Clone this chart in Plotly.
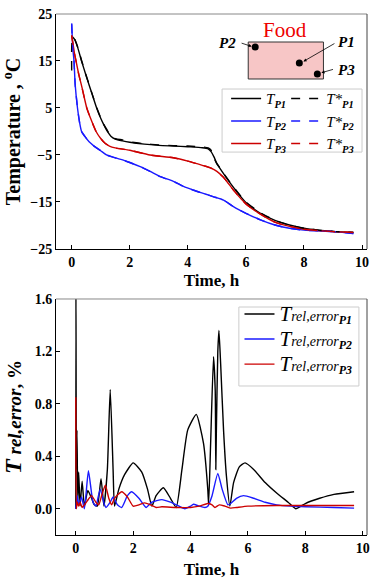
import plotly.graph_objects as go

# ---------------- data: temperatures (top panel) ----------------
t_p1 = [0.0, 0.1, 0.2, 0.34, 0.5, 0.6, 0.7, 0.86, 1.0, 1.1, 1.23, 1.35, 1.5, 1.75, 2.0, 2.5, 3.0, 3.5, 4.0, 4.5,
        4.7, 4.8, 4.9, 5.0, 5.1, 5.3, 5.5, 5.75, 6.0, 6.5, 7.0, 7.5, 8.0, 8.5, 9.0, 9.7]
T_p1 = [20.3, 19.6, 18.0, 15.0, 11.8, 9.9, 8.0, 5.0, 2.8, 1.5, 0.0, -1.0, -1.6, -2.0, -2.3, -2.7, -2.95, -3.1, -3.25, -3.45,
        -3.7, -4.3, -5.4, -6.8, -7.8, -9.6, -11.3, -13.3, -15.1, -17.4, -18.9, -19.9, -20.6, -21.0, -21.25, -21.5]
ts_p1 = [0.0, 0.03, 0.1, 0.2, 0.34, 0.5, 0.6, 0.7, 0.86, 1.0, 1.1, 1.23, 1.3, 1.35, 1.5, 1.75, 2.0, 2.5, 3.0, 3.5, 4.0,
         4.5, 4.7, 4.8, 4.85, 4.9, 5.0, 5.1, 5.3, 5.5, 5.75, 6.0, 6.5, 7.0, 7.5, 8.0, 8.5, 9.0, 9.7]
Ts_p1 = [13.0, 20.0, 19.7, 18.1, 15.1, 11.9, 10.0, 8.1, 5.1, 2.9, 1.6, 0.2, -0.6, -0.8, -1.5, -1.8, -2.2, -2.6, -2.85, -3.0, -3.1,
         -3.3, -3.5, -4.0, -4.8, -5.6, -6.9, -7.7, -9.5, -11.2, -13.2, -15.0, -17.3, -18.9, -19.9, -20.6, -21.0, -21.25, -21.5]

t_p2 = [0.0, 0.02, 0.05, 0.08, 0.12, 0.2, 0.27, 0.34, 0.46, 0.6, 0.75, 1.0, 1.2, 1.5, 1.78, 2.0, 2.36, 2.7, 3.05, 3.5,
        3.85, 4.2, 4.6, 4.89, 5.23, 5.57, 6.0, 6.5, 7.0, 7.5, 8.0, 9.0, 9.7]
T_p2 = [23.0, 20.0, 17.0, 15.0, 10.0, 5.0, 2.0, 0.0, -1.1, -2.2, -3.0, -4.1, -5.0, -5.6, -6.1, -6.6, -7.5, -8.5, -9.6, -10.6,
        -11.7, -12.5, -13.3, -13.9, -14.6, -16.0, -17.4, -18.8, -19.9, -20.6, -21.0, -21.3, -21.7]
Ts_p2 = [22.8, 19.8, 16.9, 14.9, 10.0, 5.1, 2.0, 0.0, -1.1, -2.2, -3.0, -4.1, -5.0, -5.6, -6.1, -6.6, -7.5, -8.5, -9.6, -10.6,
         -11.7, -12.5, -13.3, -13.9, -14.6, -16.0, -17.4, -18.8, -19.9, -20.6, -21.0, -21.3, -21.7]

t_p3 = [0.0, 0.05, 0.1, 0.15, 0.25, 0.35, 0.52, 0.65, 0.84, 1.0, 1.15, 1.3, 1.5, 2.0, 2.7, 3.5, 4.0, 4.5, 4.8, 5.0,
        5.2, 5.35, 5.6, 6.0, 6.5, 7.0, 7.5, 8.0, 8.5, 9.0, 9.7]
T_p3 = [20.5, 18.5, 16.5, 15.0, 12.0, 9.5, 5.0, 2.8, 0.0, -1.5, -2.5, -3.1, -3.5, -4.0, -5.0, -5.6, -6.3, -7.2, -7.8, -8.5,
        -9.6, -10.7, -12.7, -15.4, -17.6, -19.3, -20.2, -20.8, -21.1, -21.3, -21.5]
Ts_p3 = [20.3, 18.4, 16.5, 15.0, 12.0, 9.5, 5.0, 2.8, 0.0, -1.5, -2.5, -3.1, -3.5, -4.0, -5.0, -5.6, -6.3, -7.2, -7.8, -8.5,
         -9.6, -10.7, -12.7, -15.4, -17.6, -19.3, -20.2, -20.8, -21.1, -21.3, -21.5]

# ---------------- data: relative error (bottom panel) ----------------
te_p1 = [0.0, 0.005, 0.02, 0.04, 0.07, 0.1, 0.15, 0.22, 0.3, 0.42, 0.55, 0.65, 0.75, 0.88, 0.98, 1.1, 1.2, 1.3, 1.35,
         1.5, 1.7, 2.0, 2.3, 2.5, 2.65, 2.8, 3.05, 3.3, 3.5, 3.7, 3.9, 4.2, 4.45, 4.6, 4.63, 4.7, 4.8, 4.86, 4.88,
         4.9, 4.95, 4.99, 5.05, 5.15, 5.25, 5.37, 5.5, 5.7, 5.9, 6.2, 6.6, 7.0, 7.4, 7.67, 8.0, 8.5, 9.0, 9.7]
E_p1 = [0.0, 1.7, 0.3, 0.6, 0.05, 0.28, 0.02, 0.21, 0.02, 0.14, 0.08, 0.03, 0.02, 0.23, 0.02, 0.3, 0.91, 0.3, 0.02,
        0.15, 0.26, 0.35, 0.28, 0.15, 0.02, 0.1, 0.16, 0.08, 0.01, 0.3, 0.6, 0.72, 0.5, 0.15, 0.03, 0.5, 1.16, 0.9, 0.3,
        0.6, 1.2, 1.36, 1.1, 0.6, 0.25, 0.02, 0.2, 0.32, 0.35, 0.3, 0.2, 0.12, 0.05, 0.0, 0.04, 0.08, 0.11, 0.13]

te_p2 = [0.0, 0.05, 0.1, 0.2, 0.3, 0.44, 0.6, 0.7, 0.85, 1.0, 1.05, 1.2, 1.3, 1.45, 1.6, 1.8, 1.95, 2.2, 2.45, 2.65,
         3.0, 3.3, 3.6, 3.8, 4.0, 4.1, 4.3, 4.5, 4.6, 4.75, 4.95, 5.1, 5.3, 5.4, 5.6, 5.85, 6.2, 6.6, 7.0, 7.5, 8.0,
         9.0, 9.7]
E_p2 = [0.0, 0.1, 0.03, 0.09, 0.0, 0.29, 0.05, 0.02, 0.15, 0.03, 0.01, 0.05, 0.09, 0.03, 0.01, 0.1, 0.13, 0.08, 0.01, 0.05,
        0.07, 0.05, 0.02, 0.0, 0.02, 0.035, 0.02, 0.01, 0.02, 0.1, 0.27, 0.15, 0.03, 0.04, 0.08, 0.1, 0.08, 0.05, 0.03,
        0.02, 0.015, 0.01, 0.005]

te_p3 = [0.0, 0.02, 0.05, 0.1, 0.15, 0.22, 0.3, 0.4, 0.55, 0.7, 0.8, 0.9, 1.03, 1.15, 1.25, 1.35, 1.6, 1.8, 2.0, 2.2,
         2.4, 2.6, 2.8, 3.0, 3.5, 4.0, 4.3, 4.6, 4.75, 4.85, 5.0, 5.2, 5.4, 5.6, 6.0, 7.0, 8.0, 9.7]
E_p3 = [0.85, 0.0, 0.05, 0.02, 0.05, 0.01, 0.03, 0.06, 0.1, 0.05, 0.03, 0.1, 0.18, 0.08, 0.03, 0.08, 0.13, 0.09, 0.02, 0.03,
        0.045, 0.03, 0.01, 0.015, 0.01, 0.01, 0.02, 0.04, 0.03, 0.01, 0.03, 0.02, 0.005, 0.01, 0.02, 0.025, 0.025, 0.025]

# inset (food sketch) probe positions, in top-panel data units
probe_names = ["P1", "P2", "P3"]
probe_x = [7.84, 6.32, 8.46]
probe_y = [14.57, 17.98, 12.23]

temp_ticks = [25, 15, 5, -5, -15, -25]
err_ticks = [0.0, 0.4, 0.8, 1.2, 1.6]
time_ticks = [0, 2, 4, 6, 8, 10]

BLACK, BLUE, RED = "#000000", "#1a1aff", "#cc0000"
SERIF = "Liberation Serif"

fig = go.Figure()
lw = 1.4
sm = 0.6

def T(sub):
    return f"<i>T</i><sub><b><i>{sub}</i></b></sub>"

def Ts(sub):
    return f"<i>T*</i><sub><b><i>{sub}</i></b></sub>"

for x, y, c, name in [(t_p1, T_p1, BLACK, "P1"), (t_p2, T_p2, BLUE, "P2"), (t_p3, T_p3, RED, "P3")]:
    fig.add_trace(go.Scatter(x=x, y=y, mode="lines", line=dict(color=c, width=lw, shape="spline", smoothing=sm),
                             name=T(name), legend="legend", xaxis="x", yaxis="y"))
for x, y, c, name in [(ts_p1, Ts_p1, BLACK, "P1"), (t_p2, Ts_p2, BLUE, "P2"), (t_p3, Ts_p3, RED, "P3")]:
    fig.add_trace(go.Scatter(x=x, y=y, mode="lines", line=dict(color=c, width=lw, dash="dash", shape="spline", smoothing=sm),
                             name=Ts(name), legend="legend2", xaxis="x", yaxis="y"))

fig.add_trace(go.Scatter(x=probe_x, y=probe_y, mode="markers", marker=dict(color="black", size=7),
                         showlegend=False, hoverinfo="skip", xaxis="x", yaxis="y"))

def E(sub):
    return (f"<i><span style='font-size:21px'>T</span></i><i><span style='font-size:14px'>rel,error</span></i>"
            f"<sub><b><i>{sub}</i></b></sub>")

for x, y, c, name in [(te_p1, E_p1, BLACK, "P1"), (te_p2, E_p2, BLUE, "P2"), (te_p3, E_p3, RED, "P3")]:
    fig.add_trace(go.Scatter(x=x, y=y, mode="lines", line=dict(color=c, width=lw, shape="spline", smoothing=0.5),
                             name=E(name), legend="legend3", xaxis="x2", yaxis="y2", cliponaxis=True))

tickfont = dict(family=SERIF, size=14, color="black", weight="bold")
axcommon = dict(showgrid=False, zeroline=False, showline=True, linecolor="black", linewidth=1,
                ticks="inside", ticklen=4, tickcolor="black", tickfont=tickfont, automargin=False,
                ticklabeloverflow="allow")

fig.update_layout(
    width=383, height=586,
    margin=dict(l=56, r=16, t=14, b=51),
    paper_bgcolor="white", plot_bgcolor="white",
    font=dict(family=SERIF, color="black"),
    xaxis=dict(domain=[0, 1], range=[-0.54, 10.17], tickvals=time_ticks, anchor="y",
               title=dict(text="<b>Time, h</b>", font=dict(size=17, family=SERIF), standoff=5), **axcommon),
    yaxis=dict(domain=[0.549, 1], range=[-25, 25], tickvals=temp_ticks, anchor="x",
               title=dict(text="<b>Temperature , <sup>o</sup>C</b>", font=dict(size=20, family=SERIF), standoff=12),
               **axcommon),
    xaxis2=dict(domain=[0, 1], range=[-0.69, 10.15], tickvals=time_ticks, anchor="y2",
                title=dict(text="<b>Time, h</b>", font=dict(size=17, family=SERIF), standoff=8), **axcommon),
    yaxis2=dict(domain=[0, 0.453], range=[-0.2, 1.6], tickvals=err_ticks, tickformat=".1f", anchor="x2",
                title=dict(text="<b><i><span style='font-size:24px'>T</span> rel,error</i>, %</b>",
                           font=dict(size=19, family=SERIF), standoff=10),
                **axcommon),
    legend=dict(x=0.547, y=0.869, xanchor="left", yanchor="top", bgcolor="rgba(0,0,0,0)",
                font=dict(family=SERIF, size=15), itemwidth=30, tracegroupgap=0),
    legend2=dict(x=0.74, y=0.869, xanchor="left", yanchor="top", bgcolor="rgba(0,0,0,0)",
                 font=dict(family=SERIF, size=15), itemwidth=30, tracegroupgap=0),
    legend3=dict(x=0.59, y=0.458, xanchor="left", yanchor="top", bgcolor="rgba(0,0,0,0)",
                 borderwidth=0, font=dict(family=SERIF, size=17), itemwidth=30),
    showlegend=True,
)

shapes = [
    # top and right frame lines of both panels
    dict(type="line", xref="x domain", yref="y domain", x0=0, x1=1, y0=1, y1=1, line=dict(color="#888888", width=1)),
    dict(type="line", xref="x domain", yref="y domain", x0=1, x1=1, y0=0, y1=1, line=dict(color="#444444", width=1)),
    dict(type="line", xref="x2 domain", yref="y2 domain", x0=0, x1=1, y0=1, y1=1, line=dict(color="#888888", width=1)),
    dict(type="line", xref="x2 domain", yref="y2 domain", x0=1, x1=1, y0=0, y1=1, line=dict(color="#444444", width=1)),
    # top legend box
    dict(type="rect", xref="paper", yref="paper", x0=0.534, x1=0.984, y0=0.735, y1=0.856,
         line=dict(color="#cccccc", width=1), fillcolor="white", layer="below"),
    # bottom legend box
    dict(type="rect", xref="paper", yref="paper", x0=0.588, x1=0.974, y0=0.286, y1=0.4376,
         line=dict(color="#cccccc", width=1), fillcolor="white", layer="below"),
    # food rectangle
    dict(type="rect", xref="x", yref="y", x0=6.08, x1=8.67, y0=11.17, y1=19.04,
         line=dict(color="#333333", width=1), fillcolor="#f7c6c6", layer="below"),
]
fig.update_layout(shapes=shapes)

lab_font = dict(family=SERIF, size=15, color="black")
annotations = [
    dict(x=7.36, y=21.7, xref="x", yref="y", text="Food", showarrow=False,
         font=dict(family=SERIF, size=21, color="#ee0000")),
    dict(x=5.38, y=18.8, xref="x", yref="y", text="<b><i>P2</i></b>", showarrow=False, font=lab_font),
    dict(x=9.45, y=19.0, xref="x", yref="y", text="<b><i>P1</i></b>", showarrow=False, font=lab_font),
    dict(x=9.45, y=13.1, xref="x", yref="y", text="<b><i>P3</i></b>", showarrow=False, font=lab_font),
    # arrows
    dict(x=6.2, y=18.1, ax=5.8, ay=18.9, xref="x", yref="y", axref="x", ayref="y", text="", showarrow=True,
         arrowhead=2, arrowsize=0.8, arrowwidth=0.8, arrowcolor="black"),
    dict(x=7.98, y=14.9, ax=9.1, ay=18.9, xref="x", yref="y", axref="x", ayref="y", text="", showarrow=True,
         arrowhead=2, arrowsize=0.8, arrowwidth=0.8, arrowcolor="black"),
    dict(x=8.6, y=12.5, ax=9.05, ay=13.3, xref="x", yref="y", axref="x", ayref="y", text="", showarrow=True,
         arrowhead=2, arrowsize=0.8, arrowwidth=0.8, arrowcolor="black"),
]
fig.update_layout(annotations=annotations)

# remove the default page margin so the figure sits at the window's top-left corner
fig.write_html("out.html", config={"displayModeBar": False},
               post_script="document.body.style.margin='0';")
